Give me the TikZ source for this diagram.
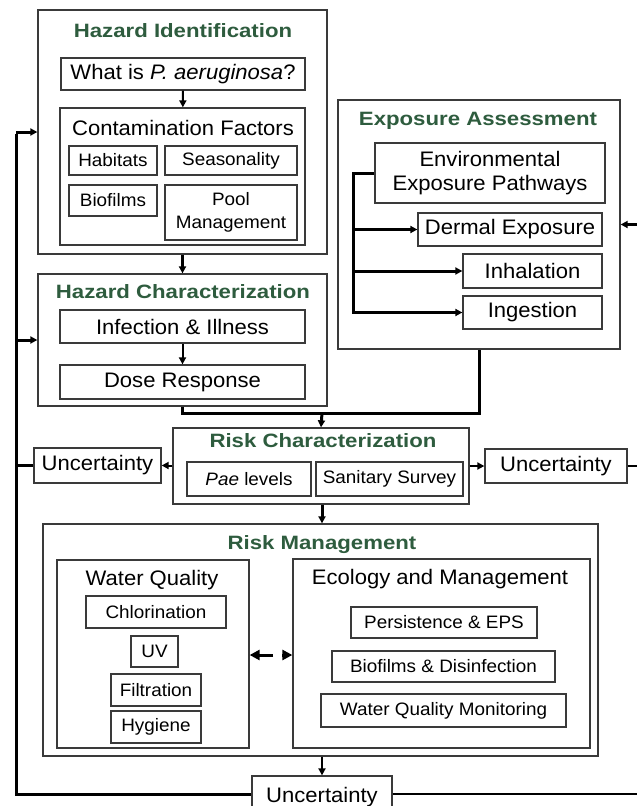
\documentclass[tikz,border=0pt]{standalone}
\usepackage{fontspec}
\setmainfont[FakeStretch=1.05]{Liberation Sans}
\newfontfamily\hdfont[FakeStretch=1.15]{Liberation Sans}
\usetikzlibrary{arrows.meta}
\definecolor{hdgreen}{RGB}{46,92,62}
\definecolor{bxgray}{RGB}{58,58,58}

\begin{document}
\begin{tikzpicture}[x=1pt, y=-1pt,
    bx/.style={draw=bxgray, line width=1.3pt, inner sep=0pt, align=center},
    hd/.style={text=hdgreen, font=\hdfont\fontsize{19.3}{22}\selectfont\bfseries},
    md/.style={font=\fontsize{21}{24}\selectfont},
    sm/.style={font=\fontsize{18}{23}\selectfont},
    ln/.style={line width=3pt, line join=miter},
    ar/.style={-{Triangle[length=7pt,width=7pt]}, line width=2pt},
    fb/.style={ar, line width=3pt},
    bg/.style={-{Triangle[length=10pt,width=10pt]}, line width=3pt}
  ]
  \useasboundingbox[fill=white] (0,0) rectangle (637,806);
  \clip (0,0) rectangle (637,806);

  % hazard identification
  \node[bx, minimum width=289pt, minimum height=244pt] (hid) at (182.5,132) {};
  \node[hd] (hidt) at (183,31) {Hazard Identification};
  \node[bx, md, minimum width=244pt, minimum height=32pt] (what) at (183,74) {What is \textit{P. aeruginosa}?};
  \node[bx, minimum width=245pt, minimum height=137pt] (cont) at (182.5,176.5) {};
  \node[md] (contt) at (183,128) {Contamination Factors};
  \node[bx, sm, minimum width=88pt, minimum height=29pt] (hab) at (113,160.5) {Habitats};
  \node[bx, sm, minimum width=132pt, minimum height=29pt] (seas) at (231,160.5) {Seasonality};
  \node[bx, sm, minimum width=88pt, minimum height=31pt] (bio) at (113,200.5) {Biofilms};
  \node[bx, sm, minimum width=132pt, minimum height=55pt] (pool) at (231,212.5) {Pool\\Management};

  % hazard characterization
  \node[bx, minimum width=289pt, minimum height=132pt] (hch) at (182.5,340) {};
  \node[hd] (hcht) at (183,292) {Hazard Characterization};
  \node[bx, md, minimum width=245pt, minimum height=33pt] (inf) at (182.5,326.5) {Infection \& Illness};
  \node[bx, md, minimum width=245pt, minimum height=34pt] (dose) at (182.5,382) {Dose Response};

  % exposure assessment
  \node[bx, minimum width=282pt, minimum height=249pt] (exa) at (479,224.5) {};
  \node[hd] (exat) at (478,121) {Exposure Assessment};
  \node[bx, md, minimum width=230pt, minimum height=60pt] (env) at (490,173) {Environmental\\Exposure Pathways};
  \node[bx, md, minimum width=184pt, minimum height=33pt] (derm) at (510,229.5) {Dermal Exposure};
  \node[bx, md, minimum width=139pt, minimum height=34pt] (inh) at (532.5,271) {Inhalation};
  \node[bx, md, minimum width=139pt, minimum height=33pt] (ing) at (532.5,312.5) {Ingestion};

  % risk characterization
  \node[bx, minimum width=296pt, minimum height=76pt] (rch) at (321,466) {};
  \node[hd] (rcht) at (323,441) {Risk Characterization};
  \node[bx, sm, minimum width=124pt, minimum height=34pt] (pae) at (249,479) {\textit{Pae} levels};
  \node[bx, sm, minimum width=147pt, minimum height=34pt] (san) at (389.5,479) {Sanitary Survey};
  \node[bx, md, minimum width=127pt, minimum height=35pt] (uncL) at (97.5,465.5) {Uncertainty};
  \node[bx, md, minimum width=142pt, minimum height=34pt] (uncR) at (556,466) {Uncertainty};

  % risk management
  \node[bx, minimum width=555pt, minimum height=232pt] (rmg) at (320.5,640) {};
  \node[hd] (rmgt) at (322,545) {Risk Management};
  \node[bx, minimum width=192pt, minimum height=188pt] (wq) at (153,654) {};
  \node[md] (wqt) at (152,580) {Water Quality};
  \node[bx, sm, minimum width=140pt, minimum height=32pt] (chl) at (156,612) {Chlorination};
  \node[bx, sm, minimum width=47pt, minimum height=31pt] (uv) at (154.5,651.5) {UV};
  \node[bx, sm, minimum width=90pt, minimum height=32pt] (fil) at (156,690) {Filtration};
  \node[bx, sm, minimum width=90pt, minimum height=32pt] (hyg) at (156,727) {Hygiene};
  \node[bx, minimum width=297pt, minimum height=189pt] (eco) at (441.5,653.5) {};
  \node[md] (ecot) at (440,579) {Ecology and Management};
  \node[bx, sm, minimum width=186pt, minimum height=31pt] (pers) at (444,622.5) {Persistence \& EPS};
  \node[bx, sm, minimum width=223pt, minimum height=31pt] (biod) at (443.5,666.5) {Biofilms \& Disinfection};
  \node[bx, sm, minimum width=245pt, minimum height=33pt] (wqm) at (443.5,710.5) {Water Quality Monitoring};
  \node[bx, md, minimum width=140pt, minimum height=42pt] (uncB) at (322,797) {Uncertainty};

  % arrows inside the boxes
  \draw[ar] (what) -- (cont);
  \draw[ar] (inf) -- (dose);
  \draw[fb] (hid) -- (hch);
  \coordinate (bk) at (353,173);
  \draw[fb] (env.west) -- (bk) |- (ing.west);
  \draw[fb] (bk |- derm.west) -- (derm.west);
  \draw[fb] (bk |- inh.west) -- (inh.west);

  % into risk characterization
  \coordinate (jn) at (322,413);
  \draw[ln] (hch.south) |- (jn) -| (exa.south);
  \draw[fb] (jn) -- (rch.north);
  \draw[ar] (rch.west |- uncL) -- (uncL.east);
  \draw[ar] (rch.east |- uncR) -- (uncR.west);
  \draw[fb] (rch.south -| rmgt) -- (rmg.north -| rmgt);
  \draw[ar] (rmg.south -| uncB) -- (uncB.north);
  \coordinate (wqa) at (273,655);
  \coordinate (ecoa) at (282,655);
  \draw[bg] (wqa) -- (wq.east |- wqa);
  \draw[bg] (ecoa) -- (eco.west |- ecoa);

  % feedback loops
  \coordinate (lt) at (16,132);
  \coordinate (lb) at (16,794);
  \coordinate (rb) at (645,794);
  \draw[ln] (uncB.west |- lb) -- (lb) -- ([yshift=-1.5pt]lt);
  \draw[fb] (lt) -- (hid.west);
  \draw[fb] (lt |- hch.west) -- (hch.west);
  \draw[ln] (uncL.west) -- (uncL.west -| lt);
  \draw[ar, line width=2.5pt] (uncB.east |- rb) -- (rb) |- (exa.east);
  \draw[line width=2pt] (uncR.east) -- (uncR.east -| rb);
\end{tikzpicture}
\end{document}
